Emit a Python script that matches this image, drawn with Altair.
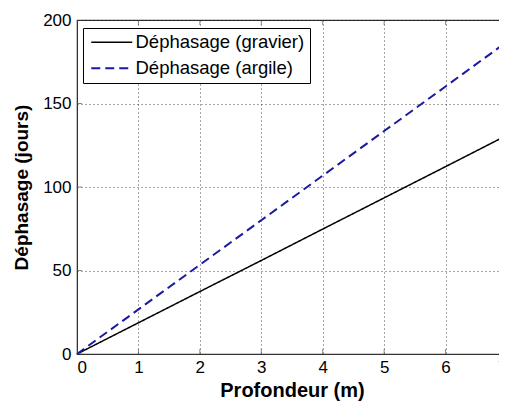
import altair as alt
import pandas as pd

depth = [0, 1, 2, 3, 4, 5, 6, 7]
gravier = [0, 18.7, 37.4, 56.0, 74.8, 93.5, 112.2, 131.0]
argile = [0, 26.7, 53.4, 80.1, 106.8, 133.5, 160.2, 187.0]
series = ["Déphasage (gravier)", "Déphasage (argile)"]
x_ticks = [0, 1, 2, 3, 4, 5, 6, 7]
y_ticks = [0, 50, 100, 150, 200]

rows = []
for d, g in zip(depth, gravier):
    rows.append({"depth": d, "val": g, "serie": series[0]})
for d, a in zip(depth, argile):
    rows.append({"depth": d, "val": a, "serie": series[1]})
df = pd.DataFrame(rows)
xt = pd.DataFrame({"t": x_ticks})
yt = pd.DataFrame({"t": y_ticks})

font = "Liberation Sans"
W, H = 430, 334

xscale = alt.Scale(domain=[0, 7], nice=False)
yscale = alt.Scale(domain=[0, 200], nice=False)

leg = dict(orient="none", legendX=6, legendY=8,
           symbolType="M-1.2,0H7", symbolSize=100, symbolStrokeWidth=1.6,
           labelFontSize=18.5, labelFont=font, labelColor="#000000", labelLimit=400,
           strokeColor="#000000", fillColor="white",
           padding=5, rowPadding=7, labelOffset=29)

lines = alt.Chart(df).mark_line().encode(
    x=alt.X("depth:Q", title="Profondeur (m)", scale=xscale,
            axis=alt.Axis(values=x_ticks, format="d")),
    y=alt.Y("val:Q", title="Déphasage (jours)", scale=yscale,
            axis=alt.Axis(values=y_ticks, format="d")),
    color=alt.Color("serie:N", title=None,
                    scale=alt.Scale(domain=series, range=["#000000", "#1a1aa0"]),
                    legend=alt.Legend(**leg)),
    strokeDash=alt.StrokeDash("serie:N", title=None,
                              scale=alt.Scale(domain=series, range=[[1, 0], [9, 5]]),
                              legend=alt.Legend(**leg)),
    strokeWidth=alt.StrokeWidth("serie:N", scale=alt.Scale(domain=series, range=[1.5, 2.0]),
                                legend=None),
    order="depth:Q",
)

tick_style = dict(clip=True, color="#555555", thickness=1, size=10)
top_ticks = alt.Chart(xt).mark_tick(orient="vertical", **tick_style).encode(
    x=alt.X("t:Q", scale=xscale), y=alt.value(0))
bot_ticks = alt.Chart(xt).mark_tick(orient="vertical", **tick_style).encode(
    x=alt.X("t:Q", scale=xscale), y=alt.value(H))
left_ticks = alt.Chart(yt).mark_tick(orient="horizontal", **tick_style).encode(
    y=alt.Y("t:Q", scale=yscale), x=alt.value(0))
right_ticks = alt.Chart(yt).mark_tick(orient="horizontal", **tick_style).encode(
    y=alt.Y("t:Q", scale=yscale), x=alt.value(W))

chart = alt.layer(lines, top_ticks, bot_ticks, left_ticks, right_ticks).properties(
    width=W, height=H,
    autosize=alt.AutoSizeParams(type="none"),
    padding={"left": 69, "top": 12, "right": -8, "bottom": 47},
).configure_view(
    stroke="#333333", strokeWidth=1.2
).configure_axis(
    labelFont=font, titleFont=font,
    labelFontSize=17, titleFontSize=19, titleFontWeight="bold",
    labelColor="#000000", titleColor="#000000",
    domainColor="#333333", tickColor="#555555", tickSize=0,
    grid=True, gridColor="#000000", gridDash=[1, 3], gridOpacity=0.7,
    labelPadding=5,
).configure_axisX(
    titlePadding=5, titleFontSize=20,
).configure_axisY(
    titlePadding=11, labelPadding=6,
)

chart.save("out.html", embed_options={"renderer": "svg", "actions": False})
